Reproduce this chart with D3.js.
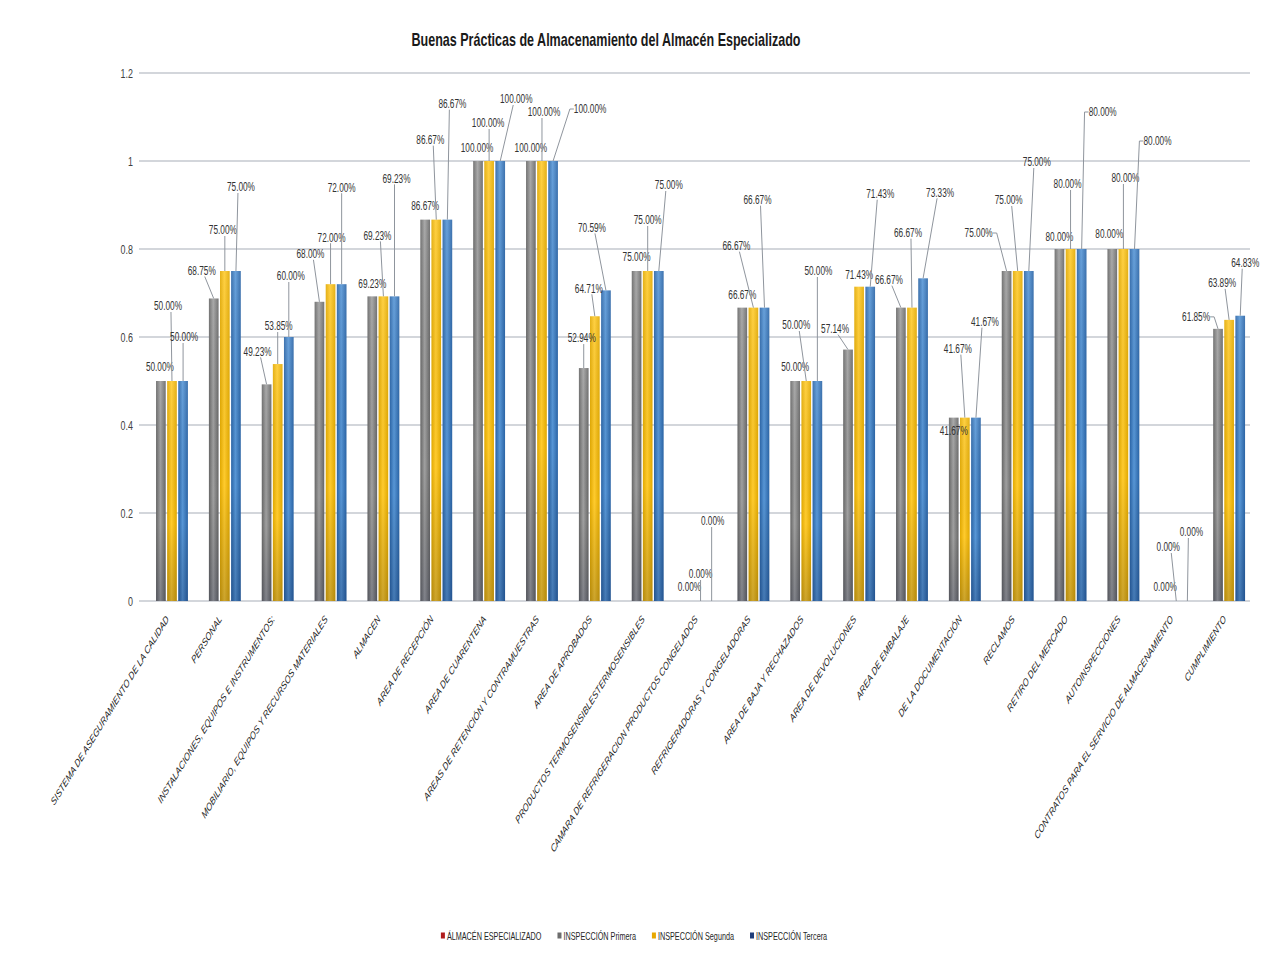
<!DOCTYPE html>
<html><head><meta charset="utf-8">
<script src="https://cdn.jsdelivr.net/npm/d3@7"></script>
<style>body{margin:0;background:#fff} svg{display:block}</style>
</head><body><svg id="chart" width="1268" height="954"></svg>
<script>
// ---------------- DATA ----------------
const categories = [
  "SISTEMA DE ASEGURAMIENTO DE LA CALIDAD",
  "PERSONAL",
  "INSTALACIONES, EQUIPOS E INSTRUMENTOS:",
  "MOBILIARIO, EQUIPOS Y RECURSOS MATERIALES",
  "ALMACEN",
  "AREA DE RECEPCIÓN",
  "AREA DE CUARENTENA",
  "AREAS DE RETENCIÓN Y CONTRAMUESTRAS",
  "AREA DE APROBADOS",
  "PRODUCTOS TERMOSENSIBLESTERMOSENSIBLES",
  "CAMARA DE REFRIGERACION PRODUCTOS CONGELADOS",
  "REFRIGERADORAS Y CONGELADORAS",
  "AREA DE BAJA Y RECHAZADOS",
  "AREA DE DEVOLUCIONES",
  "AREA DE EMBALAJE",
  "DE LA DOCUMENTACIÓN",
  "RECLAMOS",
  "RETIRO DEL MERCADO",
  "AUTOINSPECCIONES",
  "CONTRATOS PARA EL SERVICIO DE ALMACENAMIENTO",
  "CUMPLIMIENTO"
];
const seriesNames = ["ÁLMACÉN ESPECIALIZADO", "INSPECCIÓN Primera", "INSPECCIÓN Segunda", "INSPECCIÓN Tercera"];
const almacenEspecializado = [0,0,0,0,0,0,0,0,0,0,0,0,0,0,0,0,0,0,0,0,0];
const inspeccionPrimera = [0.5, 0.6875, 0.4923, 0.68, 0.6923, 0.8667, 1, 1, 0.5294, 0.75, 0, 0.6667, 0.5, 0.5714, 0.6667, 0.4167, 0.75, 0.8, 0.8, 0, 0.6185];
const inspeccionSegunda = [0.5, 0.75, 0.5385, 0.72, 0.6923, 0.8667, 1, 1, 0.6471, 0.75, 0, 0.6667, 0.5, 0.7143, 0.6667, 0.4167, 0.75, 0.8, 0.8, 0, 0.6389];
const inspeccionTercera = [0.5, 0.75, 0.60, 0.72, 0.6923, 0.8667, 1, 1, 0.7059, 0.75, 0, 0.6667, 0.5, 0.7143, 0.7333, 0.4167, 0.75, 0.8, 0.8, 0, 0.6483];
const yTicks = [0, 0.2, 0.4, 0.6, 0.8, 1, 1.2];
const yTickLabels = ["0", "0.2", "0.4", "0.6", "0.8", "1", "1.2"];
const titleText = "Buenas Prácticas de Almacenamiento del Almacén Especializado";

// ---------------- LAYOUT (data-label callout offsets, px: [dx, dy] per series Primera/Segunda/Tercera) ----------------
const labelOffsets = [
  [[-1,-14],[-4,-75],[1,-44]],
  [[-12,-28],[-2,-41],[5,-84]],
  [[-9,-33],[1,-38],[2,-61]],
  [[-9,-48],[1,-47],[0,-97]],
  [[0,-13],[-6,-61],[2,-118]],
  [[0,-14],[-6,-80],[5,-116]],
  [[-1,-13],[-1,-38],[16,-62]],
  [[0,-13],[2,-49],[37,-52]],
  [[-2,-30],[-6,-28],[-14,-63]],
  [[0,-14],[0,-51],[10,-86]],
  [[0,-14],[0,-27],[1,-80]],
  [[0,-13],[-17,-62],[-7,-108]],
  [[0,-14],[-10,-56],[1,-110]],
  [[-13,-21],[0,-12],[10,-93]],
  [[-12,-28],[-4,-75],[17,-86]],
  [[0,13],[-7,-69],[9,-96]],
  [[-28,-38],[-9,-71],[8,-109]],
  [[0,-12],[-3,-65],[21,-137]],
  [[-3,-15],[2,-71],[23,-108]],
  [[0,-14],[-8,-54],[4,-69]],
  [[-22,-12],[-7,-37],[5,-53]]
];

// ---------------- CHART ----------------
const W = 1268, H = 954;
const FONT = "'Liberation Sans', Arial, sans-serif";
const SX = 0.66; // horizontal text compression
const svg = d3.select("#chart");
svg.append("rect").attr("width", W).attr("height", H).attr("fill", "#fff");

const seriesValues = [almacenEspecializado, inspeccionPrimera, inspeccionSegunda, inspeccionTercera];
const colors = {
  edge:   ["#8b1a1a", "#666666", "#e2a900", "#2a64a6"],
  center: ["#c0392b", "#a0a0a0", "#ffcb2e", "#5796d6"],
  legend: ["#b01c1c", "#6d6d6d", "#e8a800", "#1f3d7a"]
};

const defs = svg.append("defs");
seriesNames.forEach((s, i) => {
  const g = defs.append("linearGradient").attr("id", "grad" + i).attr("x1", 0).attr("x2", 1).attr("y1", 0).attr("y2", 0);
  g.append("stop").attr("offset", "0%").attr("stop-color", colors.edge[i]);
  g.append("stop").attr("offset", "45%").attr("stop-color", colors.center[i]);
  g.append("stop").attr("offset", "100%").attr("stop-color", colors.edge[i]);
});
const sh = defs.append("linearGradient").attr("id", "shade").attr("x1", 0).attr("x2", 0).attr("y1", 0).attr("y2", 1);
sh.append("stop").attr("offset", "0%").attr("stop-color", "#fff").attr("stop-opacity", 0.1);
sh.append("stop").attr("offset", "65%").attr("stop-color", "#000").attr("stop-opacity", 0);
sh.append("stop").attr("offset", "100%").attr("stop-color", "#000a30").attr("stop-opacity", 0.2);

const y = d3.scaleLinear().domain([0, 1.2]).range([601, 73]);
const x0 = d3.scaleBand().domain(categories).range([140, 1250]);
const groupW = x0.bandwidth() * 0.813;
const x1 = d3.scaleBand().domain(seriesNames).range([(x0.bandwidth() - groupW) / 2, (x0.bandwidth() + groupW) / 2]).paddingInner(0.13);

function ctext(parent, x, yy, str, size, opts = {}) {
  return parent.append("text")
    .attr("transform", `translate(${x},${yy}) scale(${opts.sx || SX},1)` + (opts.rot ? ` rotate(${opts.rot})` : ""))
    .attr("font-family", FONT)
    .attr("font-size", size)
    .attr("font-weight", opts.bold ? "bold" : null)
    .attr("font-style", opts.italic ? "italic" : null)
    .attr("text-anchor", opts.anchor || "middle")
    .attr("dy", opts.dy || "0.35em")
    .attr("fill", opts.fill || "#404040")
    .text(str);
}

// gridlines + y labels
const gGrid = svg.append("g");
yTicks.forEach((t, i) => {
  gGrid.append("line").attr("x1", 139).attr("x2", 1250).attr("y1", y(t)).attr("y2", y(t))
    .attr("stroke", "#c4c8cf").attr("stroke-width", 1.5);
  ctext(gGrid, 133, y(t), yTickLabels[i], 13.5, { anchor: "end", fill: "#404040" });
});

// bars
const gBars = svg.append("g");
categories.forEach((c, ci) => {
  seriesNames.forEach((s, si) => {
    const v = seriesValues[si][ci];
    if (!(v > 0)) return;
    const bx = x0(c) + x1(s), bw = x1.bandwidth();
    gBars.append("rect").attr("x", bx).attr("y", y(v)).attr("width", bw).attr("height", y(0) - y(v))
      .attr("fill", `url(#grad${si})`);
    gBars.append("rect").attr("x", bx).attr("y", y(v)).attr("width", bw).attr("height", y(0) - y(v))
      .attr("fill", "url(#shade)");
  });
});

// data labels with leader lines
const fmt = d3.format(".2%");
const gLab = svg.append("g");
categories.forEach((c, ci) => {
  [1, 2, 3].forEach(si => {
    const v = seriesValues[si][ci];
    const s = seriesNames[si];
    const barX = x0(c) + x1(s) + x1.bandwidth() / 2;
    const barTop = y(v);
    const [dx, dy] = labelOffsets[ci][si - 1];
    const lx = barX + dx, ly = barTop + dy;
    const str = fmt(v);
    const halfW = str.length * 2.1;
    const side = Math.abs(dx) > 19;
    if (side) {
      const dir = dx > 0 ? -1 : 1;
      const ex = lx + dir * (halfW + 1.5);
      gLab.append("path").attr("d", `M${ex},${ly}L${ex + dir * 4},${ly}L${barX},${barTop}`)
        .attr("fill", "none").attr("stroke", "#8f959d").attr("stroke-width", 1);
    } else if (barTop - (ly + 6) > 10) {
      const sx = lx + Math.max(-3, Math.min(3, barX - lx));
      gLab.append("line").attr("x1", sx).attr("y1", ly + 6).attr("x2", barX).attr("y2", barTop)
        .attr("stroke", "#8f959d").attr("stroke-width", 1);
    }
    ctext(gLab, lx, ly, str, 12.5, { fill: "#333" });
  });
});

// x axis labels
const gX = svg.append("g");
categories.forEach(c => {
  const cx = x0(c) + x0.bandwidth() / 2;
  ctext(gX, cx + 1, 617, c, 10.8, { italic: true, anchor: "end", rot: -49.4, sx: 0.72, fill: "#1a1a1a" });
});

// title
svg.append("text").attr("x", 606).attr("y", 46).attr("text-anchor", "middle")
  .attr("font-family", FONT).attr("font-weight", "bold").attr("font-size", 19)
  .attr("textLength", 389).attr("lengthAdjust", "spacingAndGlyphs")
  .attr("fill", "#1a1a1a").text(titleText);

// legend
const gLeg = svg.append("g");
const tmp = [];
seriesNames.forEach((s, i) => {
  const t = ctext(gLeg, 0, 936, s, 11, { anchor: "start", fill: "#262626" });
  tmp.push(t);
});
const widths = tmp.map(t => t.node().getComputedTextLength() * SX);
const sq = 4, gapSq = 2, gapItem = 16;
const total = d3.sum(widths) + seriesNames.length * (sq + gapSq) + (seriesNames.length - 1) * gapItem;
let lxp = 634 - total / 2;
seriesNames.forEach((s, i) => {
  gLeg.append("rect").attr("x", lxp).attr("y", 932.5).attr("width", sq).attr("height", 6).attr("fill", colors.legend[i]);
  tmp[i].attr("transform", `translate(${lxp + sq + gapSq},936) scale(${SX},1)`);
  lxp += sq + gapSq + widths[i] + gapItem;
});
</script>
</body></html>
